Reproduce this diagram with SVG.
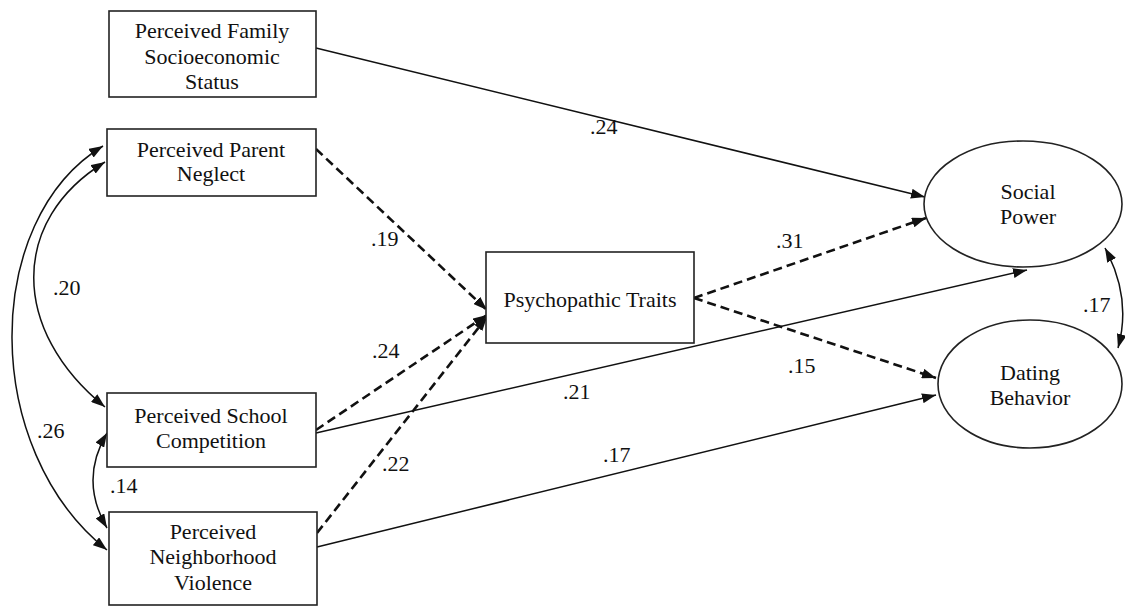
<svg xmlns="http://www.w3.org/2000/svg" width="1125" height="606" viewBox="0 0 1125 606">
<style>
.box{fill:#fff;stroke:#222;stroke-width:1.6}
.t{font-family:'Liberation Serif','Times New Roman',Times,'DejaVu Serif',serif;font-size:22px;fill:#111;text-anchor:middle}
.lbl{font-family:'Liberation Serif','Times New Roman',Times,'DejaVu Serif',serif;font-size:22px;fill:#111}
.solid{fill:none;stroke:#111;stroke-width:1.5}
.dash{fill:none;stroke:#111;stroke-width:2.6;stroke-dasharray:9 5}
</style>
<defs>
<marker id="ah" viewBox="0 0 14 10" refX="14" refY="5" markerWidth="14" markerHeight="10" markerUnits="userSpaceOnUse" orient="auto-start-reverse">
<path d="M0,0 L14,5 L0,10 z" fill="#111" stroke="none"/>
</marker>
</defs>
<rect width="1125" height="606" fill="#fff"/>
<g id="connectors">
<path class="solid" d="M316,48 L925,197" marker-end="url(#ah)"/>
<path class="dash" d="M316,149 L487,310" marker-end="url(#ah)"/>
<path class="dash" d="M316,430 L487,315" marker-end="url(#ah)"/>
<path class="dash" d="M317,533 L487,317" marker-end="url(#ah)"/>
<path class="solid" d="M316,433 L1027,270" marker-end="url(#ah)"/>
<path class="solid" d="M317,547 L936,395" marker-end="url(#ah)"/>
<path class="dash" d="M694,298 L926,218" marker-end="url(#ah)"/>
<path class="dash" d="M694,298 L936,378" marker-end="url(#ah)"/>
<path class="solid" d="M105,162 C10,220 10,330 105,407" marker-start="url(#ah)" marker-end="url(#ah)"/>
<path class="solid" d="M103,146 C-19,220 -19,450 107,550" marker-start="url(#ah)" marker-end="url(#ah)"/>
<path class="solid" d="M107,433 Q79,480 107,528" marker-start="url(#ah)" marker-end="url(#ah)"/>
<path class="solid" d="M1105,248 Q1132,298 1118,348" marker-start="url(#ah)" marker-end="url(#ah)"/>
<text class="lbl" x="590" y="134">.24</text>
<text class="lbl" x="371" y="246">.19</text>
<text class="lbl" x="53" y="295">.20</text>
<text class="lbl" x="37" y="438">.26</text>
<text class="lbl" x="110" y="493">.14</text>
<text class="lbl" x="372" y="358">.24</text>
<text class="lbl" x="563" y="399">.21</text>
<text class="lbl" x="382" y="471">.22</text>
<text class="lbl" x="603" y="462">.17</text>
<text class="lbl" x="776" y="248">.31</text>
<text class="lbl" x="788" y="373">.15</text>
<text class="lbl" x="1083" y="312">.17</text>
</g>
<g id="ses">
<rect class="box" x="109" y="11" width="207" height="86"/>
<text class="t" x="212" y="38">Perceived Family</text>
<text class="t" x="212" y="64">Socioeconomic</text>
<text class="t" x="212" y="89">Status</text>
</g>
<g id="neglect">
<rect class="box" x="107" y="129" width="209" height="67"/>
<text class="t" x="211" y="157">Perceived Parent</text>
<text class="t" x="211" y="181">Neglect</text>
</g>
<g id="school">
<rect class="box" x="107" y="393" width="209" height="74"/>
<text class="t" x="211" y="423">Perceived School</text>
<text class="t" x="211" y="448">Competition</text>
</g>
<g id="neighborhood">
<rect class="box" x="109" y="512" width="208" height="93"/>
<text class="t" x="213" y="539">Perceived</text>
<text class="t" x="213" y="564">Neighborhood</text>
<text class="t" x="213" y="590">Violence</text>
</g>
<g id="psych">
<rect class="box" x="486" y="252" width="208" height="91"/>
<text class="t" x="590" y="307">Psychopathic Traits</text>
</g>
<g id="social">
<ellipse class="box" cx="1023" cy="204" rx="99" ry="63"/>
<text class="t" x="1028" y="199">Social</text>
<text class="t" x="1028" y="224">Power</text>
</g>
<g id="dating">
<ellipse class="box" cx="1030" cy="384" rx="92" ry="64"/>
<text class="t" x="1030" y="380">Dating</text>
<text class="t" x="1030" y="405">Behavior</text>
</g>
</svg>
